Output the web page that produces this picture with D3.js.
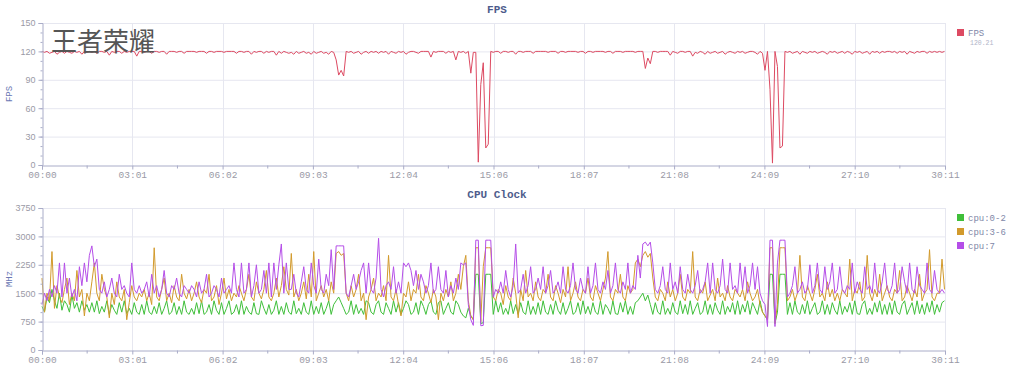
<!DOCTYPE html>
<html>
<head>
<meta charset="utf-8">
<script src="https://cdn.jsdelivr.net/npm/d3@7"></script>
<style>
  body { margin: 0; background: #fff; }
</style>
</head>
<body>
<div class="canvas"></div>
<script>
// sample step (seconds) and total length of the recording
const step = 5;
const totalSec = 1811;

const xTickLabels = ['00:00', '03:01', '06:02', '09:03', '12:04', '15:06', '18:07', '21:08', '24:09', '27:10', '30:11'];
const fpsTicks = [0, 30, 60, 90, 120, 150];
const cpuTicks = [0, 750, 1500, 2250, 3000, 3750];
const cpuSeriesNames = ['cpu:0-2', 'cpu:3-6', 'cpu:7'];

// fps, one value every 5 s
const fps = [
  120,119,120,118,119,120,117,119,120,118,120,119,118,120,119,120,117,120,119,120,
  119,120,118,120,120,119,120,116,120,119,120,120,118,120,119,120,120,120,115,120,
  120,119,120,120,118,120,120,119,120,120,117,120,120,120,119,120,120,118,120,120,
  120,120,119,120,120,120,118,120,120,119,120,120,120,119,120,120,120,120,118,120,
  120,119,120,120,117,120,119,120,120,118,120,119,120,120,116,120,118,120,119,118,
  119,117,120,118,119,120,118,119,117,120,118,119,120,118,119,117,120,119,111,95,
  100,94,120,119,120,118,119,120,117,119,120,118,120,119,120,118,120,119,120,117,
  120,119,118,120,119,120,117,119,120,120,119,118,120,120,120,120,114,120,119,120,
  120,120,118,120,119,120,111,120,119,120,118,120,97,119,119,3,85,108,18,22,
  120,119,120,120,118,120,120,119,120,120,117,120,120,119,120,120,120,118,120,120,
  120,120,120,119,120,120,120,118,120,120,119,120,120,120,120,119,120,120,118,120,
  120,119,120,120,120,120,119,120,120,118,120,120,120,119,120,120,120,120,119,120,
  120,120,102,113,107,120,120,119,120,120,120,120,116,120,119,118,120,120,119,120,
  120,115,119,118,120,119,117,120,118,119,120,118,119,120,117,119,120,119,118,120,
  119,120,118,119,120,120,119,117,120,118,100,120,80,2,120,104,18,20,120,119,
  120,118,119,120,117,120,119,118,120,119,120,118,119,120,119,117,120,119,120,118,
  119,120,118,120,119,117,120,119,120,118,119,120,117,120,119,120,118,120,119,120,
  120,119,120,118,120,119,120,117,120,119,118,120,119,120,120,118,120,119,120,119,
  120,119,120
];

// cpu 0-2 clock (MHz)
const cpuLittle = [
  1150,1000,1400,1250,1600,1300,1100,1500,1050,1300,1200,1000,1450,1100,1250,1000,1300,1050,1200,1000,
  1250,1000,1300,960,1150,1000,1300,940,1200,1050,940,1250,1000,1300,960,1100,940,1250,1000,940,
  1200,940,1300,1000,940,1150,960,1250,940,1100,1300,940,1000,1250,940,1150,940,1300,1000,940,
  1100,940,1250,960,1300,940,1000,1200,940,1300,1050,940,1250,940,1100,1300,940,1000,1200,940,
  1300,940,1150,1000,940,1250,960,940,1300,1100,940,1200,940,1050,1300,940,1150,940,1250,1000,
  940,1300,960,1100,940,1250,1000,940,1300,940,1150,960,1250,940,1100,1300,940,1200,1300,1400,
  1250,1100,940,1000,1300,940,1200,960,1100,940,1300,1250,1000,940,1200,1300,1000,940,1250,1100,
  940,1300,1000,1250,940,1100,1300,1200,940,1000,1250,940,1300,1150,940,1200,1300,1000,940,1250,
  1300,940,1100,1250,1000,940,1300,1200,1000,900,850,1100,900,800,2000,2000,700,720,2000,2000,
  2000,940,1300,1000,1250,940,1100,940,1300,960,1200,940,1250,1000,940,1300,940,1150,940,1250,
  940,1300,1000,940,1200,940,1300,1050,940,1250,940,1100,1300,940,1000,1250,940,1300,960,1150,
  940,1250,1000,940,1300,940,1200,1100,940,1300,960,940,1250,1000,1300,940,1150,940,1250,1300,
  1400,1500,1300,1450,1200,940,1250,1000,940,1300,940,1100,940,1250,1000,940,1300,960,1200,940,
  1300,940,1100,1250,940,1000,1300,940,1200,940,1250,1050,940,1300,940,1150,1000,1250,940,1300,
  940,1200,1000,1300,940,1250,1100,940,1300,1000,900,800,2000,2000,700,1000,2000,2000,2000,940,
  1250,940,1300,1000,940,1200,960,1300,940,1100,1250,940,1000,1300,940,1200,940,1250,1050,940,
  1300,940,1150,1000,1250,940,1300,960,940,1200,1300,940,1100,940,1250,1000,1300,940,1200,940,
  1250,940,1300,1000,940,1200,1300,940,1100,1250,940,1300,960,1200,940,1250,1000,1300,940,1200,
  1000,1250,1300
];

// cpu 3-6 clock (MHz)
const cpuMid = [
  1900,1000,1500,1300,2600,1100,1700,1400,1250,1600,1900,1200,1500,1300,2100,1400,1600,900,1500,1300,
  1800,2300,1500,1300,2000,1600,1400,850,1500,1200,1800,1400,1300,1600,800,1250,1700,1400,1300,1500,
  1400,1600,1300,1500,1200,2700,1400,1300,1600,1900,1300,1500,1250,1700,1400,1300,2000,1500,1350,1600,
  1300,1500,1800,1400,1250,1600,1500,2000,1300,1400,1700,1200,1500,1900,1350,1600,1300,1500,1400,1700,
  1500,1300,1600,2000,1400,1300,1800,1500,1350,1600,2100,1400,1300,1500,1900,1400,1700,2200,1600,1450,
  2550,1400,1600,1300,1500,1800,1350,2000,1400,2600,1300,1500,1700,1400,1600,1300,1800,1500,2550,2600,
  2500,2550,1500,1300,1700,1400,1600,2000,1300,1500,800,1400,1600,1900,1300,1500,1400,1700,1300,2500,
  1400,1300,1600,1200,900,1500,1400,1800,1300,1600,1500,2000,1400,1300,1700,1500,1250,1600,1400,800,
  1500,1300,1600,1400,1800,1300,1500,2000,1600,2200,2500,1300,900,800,2700,2700,750,2200,2700,2700,
  2700,1400,1300,1600,1500,1200,1700,1400,1300,1900,1500,850,1600,1300,2100,1400,1500,1300,1800,1400,
  1300,1600,1500,2000,1400,1300,1700,1500,1250,1600,1400,2200,1300,1500,1800,1400,1300,1600,1500,1900,
  1400,1300,1700,1500,1300,1600,1900,2600,1400,1300,1600,1500,2000,1400,1300,1700,1500,1600,2300,2400,
  2200,2500,2600,2450,2550,1900,1400,1300,1600,1500,1300,1800,1400,1600,1300,1500,2000,1400,1300,1600,
  1500,2600,1400,1300,1600,1500,1800,1300,1450,1600,1300,1900,1400,1500,1300,1700,1400,1300,1600,1500,
  1400,1600,1300,1800,1500,1300,1400,1600,1200,1000,900,800,2700,2700,700,1200,2700,2700,2700,1300,
  1400,1600,1300,1500,2500,1400,1300,1700,1500,1300,1600,2000,1400,1500,1300,1800,1400,1600,1300,1500,
  1300,1600,1500,1400,2400,1300,1600,1500,1800,1300,1400,2500,1500,1300,1600,1400,2000,1300,1500,1700,
  1400,1300,1600,1500,2100,1300,1400,1700,1500,1300,1600,1400,2000,1300,1500,1600,2650,1400,1300,1500,
  1500,2400,1600
];

// cpu 7 clock (MHz)
const cpuBig = [
  1200,1500,1300,1600,1400,1700,1500,2300,1400,2300,1500,1900,1400,1600,1300,2200,1700,2300,1800,2500,
  2750,2200,2400,1600,1500,1800,1400,1600,1900,1500,1400,2000,1600,1700,1500,1400,2300,1600,1500,1700,
  1500,1600,1800,1400,2000,1500,1700,1400,1600,2100,1500,1400,1700,1600,1900,1500,1400,1700,1600,1500,
  1700,1600,1400,1800,1500,1600,2000,1400,1500,1700,1600,1400,1900,1500,1600,1700,1500,2300,1600,1400,
  2300,1500,1600,2300,1400,1700,2250,1500,1600,2100,1500,2300,1400,2300,1600,2250,2800,1500,2300,1600,
  1600,2000,1500,1400,1800,2200,1600,1500,2300,1700,1500,2400,1600,1500,2000,1700,2650,1600,2750,2750,
  2750,2750,1500,1400,1700,2000,1600,1800,2100,2300,1500,2300,1600,1500,1900,2950,1600,1400,1700,1800,
  1600,2200,1500,1800,1500,2300,2200,2300,2100,1700,2100,1600,2000,1800,1500,1700,2300,1500,1600,2200,
  1600,1500,2100,1400,1700,1500,1900,1600,2300,2250,2300,1200,800,650,2900,2900,640,650,2900,2900,
  2900,1400,1600,1500,1800,1500,2100,1600,1400,1700,2800,1500,1600,2000,1500,1700,2200,1500,1600,1900,
  1600,2200,1500,1700,2100,1500,1600,1800,1500,2200,1600,1500,1700,2300,1600,1500,1900,1600,1500,2200,
  1500,1700,2300,1600,1500,1800,1600,2100,1500,1700,2300,1600,1500,1800,1600,2300,1500,1700,1600,2500,
  1900,2800,2850,2750,2850,2300,1600,1500,1700,2200,1600,1500,2300,1600,1800,1500,2200,1600,1500,2000,
  1600,1500,1700,2100,1500,1600,1800,2300,1500,2300,1600,1500,1700,2400,1600,1500,2300,1600,1700,1500,
  2300,1600,2200,1500,1700,2300,1600,2200,1500,1300,1200,620,2900,2900,620,2300,2900,2900,2900,1400,
  1500,1700,2200,1500,1600,1800,1500,1600,2250,1500,1700,2300,1600,1500,2200,1600,1800,2300,1500,1600,
  2200,1600,1500,1700,1600,2300,1500,1800,1600,1500,2200,1600,1700,1500,2300,1600,1500,1800,2300,1600,
  1500,1700,2300,1500,1600,2200,1800,1500,2300,1600,1500,2200,1700,1600,1500,2300,1600,1500,2100,1600,
  1500,1600,1500
];

const fpsColor = '#dd4a62';
const cpuColors = ['#3fbf3a', '#d29a2c', '#b54ee8'];

const monoFont = '"Liberation Mono", "DejaVu Sans Mono", monospace';
const sansFont = '"Liberation Sans", Arial, sans-serif';

const svg = d3.select('.canvas')
  .append('svg')
  .attr('width', 1024)
  .attr('height', 372);

const left = 42, right = 945;

const x = d3.scaleLinear()
  .domain([0, totalSec])
  .range([left, right]);

const majorTicks = xTickLabels.map((d, i) => i * totalSec / 10);
const minorTicks = majorTicks.slice(0, -1).map(t => t + totalSec / 20);

// draws one panel: grid, axes, title and lines
function drawPanel(opts) {
  const y = d3.scaleLinear()
    .domain([0, opts.ticks[opts.ticks.length - 1]])
    .range([opts.bottom, opts.top]);

  const g = svg.append('g');

  // grid
  g.selectAll('.hgrid')
    .data(opts.ticks.slice(1))
    .enter().append('line')
    .attr('x1', left).attr('x2', right)
    .attr('y1', d => y(d) + 0.5).attr('y2', d => y(d) + 0.5)
    .attr('stroke', '#e6e7f0');
  g.selectAll('.vgrid')
    .data(majorTicks.slice(1))
    .enter().append('line')
    .attr('x1', d => Math.round(x(d)) + 0.5).attr('x2', d => Math.round(x(d)) + 0.5)
    .attr('y1', opts.top).attr('y2', opts.bottom)
    .attr('stroke', '#e6e7f0');

  // series
  const line = d3.line()
    .x((d, i) => x(i * step))
    .y(d => y(d));
  opts.series.forEach((s, k) => {
    g.append('path')
      .datum(s)
      .attr('fill', 'none')
      .attr('stroke', opts.colors[k])
      .attr('stroke-width', 1)
      .attr('d', line);
  });

  // y axis
  const yAxis = d3.axisLeft(y)
    .tickValues(opts.ticks)
    .tickFormat(d3.format('d'))
    .tickSize(4)
    .tickPadding(3);
  const yg = g.append('g')
    .attr('transform', `translate(${left + 0.5},0)`)
    .call(yAxis);
  const yMinor = d3.range(0, opts.ticks[opts.ticks.length - 1], opts.minor);
  yg.selectAll('.minor')
    .data(yMinor)
    .enter().append('line')
    .attr('x1', -2).attr('x2', 0)
    .attr('y1', d => y(d) + 0.5).attr('y2', d => y(d) + 0.5)
    .attr('stroke', '#a9acc8');

  // x axis
  const xAxis = d3.axisBottom(x)
    .tickValues(majorTicks)
    .tickFormat((d, i) => xTickLabels[i])
    .tickSize(4)
    .tickPadding(2);
  const xg = g.append('g')
    .attr('transform', `translate(0,${opts.bottom + 0.5})`)
    .call(xAxis);
  xg.selectAll('.minor')
    .data(minorTicks)
    .enter().append('line')
    .attr('x1', d => x(d)).attr('x2', d => x(d))
    .attr('y1', 0).attr('y2', 3)
    .attr('stroke', '#a9acc8');

  [yg, xg].forEach(ag => {
    ag.select('.domain').attr('stroke', '#a9acc8');
    ag.selectAll('.tick line').attr('stroke', '#a9acc8');
    ag.selectAll('text').attr('fill', '#9a9aa6');
  });
  yg.selectAll('text').style('font-family', sansFont).style('font-size', '9px');
  xg.selectAll('text').style('font-family', monoFont).style('font-size', '9.5px');

  // y axis name
  g.append('text')
    .attr('transform', `translate(12,${(opts.top + opts.bottom) / 2}) rotate(-90)`)
    .attr('text-anchor', 'middle')
    .style('font-family', monoFont)
    .style('font-size', '9px')
    .attr('fill', '#6b78b4')
    .text(opts.yName);

  // title
  g.append('text')
    .attr('x', 497)
    .attr('y', opts.top - 10)
    .attr('text-anchor', 'middle')
    .style('font-family', monoFont)
    .style('font-weight', 'bold')
    .style('font-size', '11px')
    .attr('fill', '#4e5c8c')
    .text(opts.title);

  // legend
  const lg = g.append('g').attr('transform', `translate(957,${opts.top + 6})`);
  opts.names.forEach((n, k) => {
    lg.append('rect')
      .attr('x', 0).attr('y', k * 14)
      .attr('width', 7).attr('height', 7)
      .attr('fill', opts.colors[k]);
    lg.append('text')
      .attr('x', 11).attr('y', k * 14 + 7)
      .style('font-family', monoFont)
      .style('font-size', '9px')
      .attr('fill', '#8088a8')
      .text(n);
  });
  return lg;
}

const fpsLegend = drawPanel({
  top: 23, bottom: 165,
  ticks: fpsTicks, minor: 10,
  series: [fps], colors: [fpsColor], names: ['FPS'],
  title: 'FPS', yName: 'FPS'
});
fpsLegend.append('text')
  .attr('x', 13).attr('y', 16)
  .style('font-family', monoFont)
  .style('font-size', '6.5px')
  .attr('fill', '#b0b4c8')
  .text('120.21');

drawPanel({
  top: 208, bottom: 350,
  ticks: cpuTicks, minor: 250,
  series: [cpuLittle, cpuMid, cpuBig], colors: cpuColors, names: cpuSeriesNames,
  title: 'CPU Clock', yName: 'MHz'
});

// game name watermark
svg.append('text')
  .attr('x', 51)
  .attr('y', 51)
  .style('font-family', '"Noto Sans CJK SC", sans-serif')
  .style('font-size', '26px')
  .attr('fill', '#555')
  .text('王者荣耀');
</script>
</body>
</html>
